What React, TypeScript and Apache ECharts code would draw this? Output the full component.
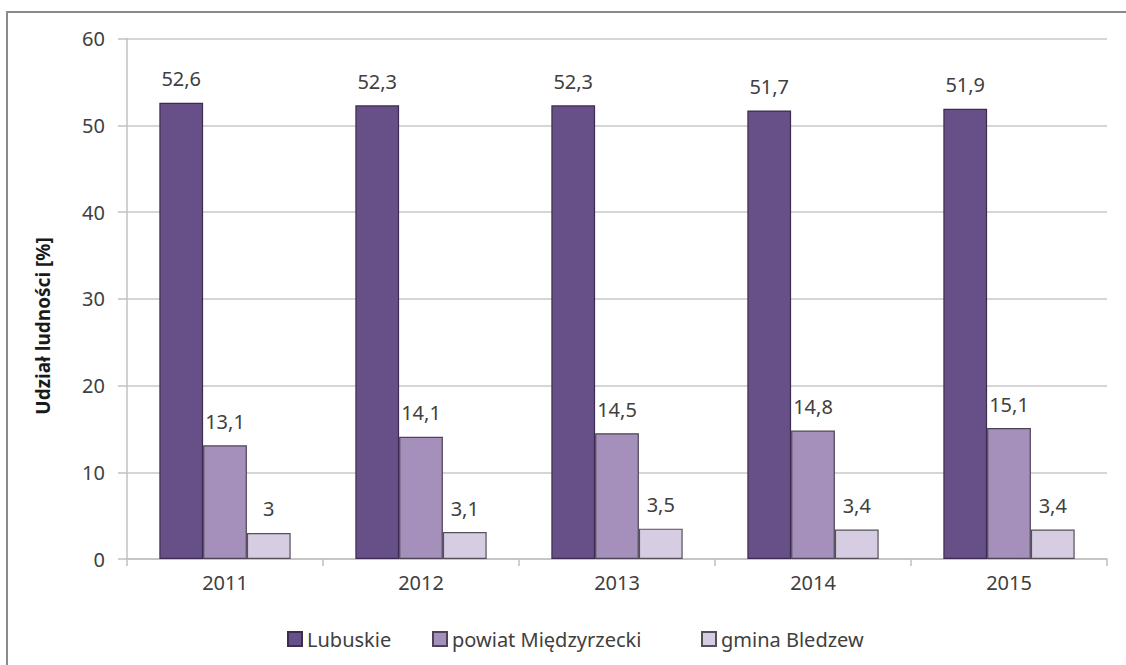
import React, { useEffect, useRef } from "react";
import * as echarts from "echarts";

const years = ["2011", "2012", "2013", "2014", "2015"];
const lubuskie = [52.6, 52.3, 52.3, 51.7, 51.9];
const powiat = [13.1, 14.1, 14.5, 14.8, 15.1];
const gmina = [3, 3.1, 3.5, 3.4, 3.4];
const seriesNames = ["Lubuskie", "powiat Międzyrzecki", "gmina Bledzew"];
const yTitle = "Udział ludności [%]";

const FONT = "'Noto Sans', sans-serif";
const TXT = "#404040";
const legendLefts = [282, 427, 696];

export default function App() {
  const ref = useRef<HTMLDivElement>(null);
  useEffect(() => {
    if (!ref.current) return;
    const chart = echarts.init(ref.current, null, { renderer: "svg" });
    const label = {
      show: true,
      position: "top" as const,
      distance: 14,
      color: TXT,
      fontFamily: FONT,
      fontSize: 20,
      formatter: (p: any) => String(p.value).replace(".", ","),
    };
    const mk = (name: string, data: number[], color: string, border: string) => ({
      name,
      type: "bar",
      data,
      barGap: "0%",
      barCategoryGap: "33%",
      itemStyle: { color, borderColor: border, borderWidth: 1.2 },
      label,
    });
    chart.setOption({
      animation: false,
      backgroundColor: "#ffffff",
      grid: { left: 127, right: 19, top: 38.5, bottom: 106, containLabel: false },
      graphic: [
        {
          type: "rect",
          shape: { x: 7, y: 12, width: 1130, height: 670 },
          style: { fill: "none", stroke: "#8a8a8a", lineWidth: 2 },
          silent: true,
        },
        {
          type: "text",
          x: 43,
          y: 326,
          rotation: Math.PI / 2,
          style: {
            text: yTitle,
            fontFamily: FONT,
            fontSize: 19,
            fontWeight: "bold",
            fill: "#1a1a1a",
            align: "center",
            verticalAlign: "middle",
          },
        },
      ],
      legend: seriesNames.map((n, i) => ({
        left: legendLefts[i],
        top: 624,
        icon: "rect",
        itemWidth: 14,
        itemHeight: 14,
        itemGap: 0,
        textStyle: { fontFamily: FONT, fontSize: 20, color: TXT },
        data: [n],
      })),
      xAxis: {
        type: "category",
        data: years,
        axisLine: { show: true, lineStyle: { color: "#c0c0c0", width: 1.5 } },
        axisTick: { show: true, length: 7, alignWithLabel: false, lineStyle: { color: "#c0c0c0", width: 1.5 } },
        axisLabel: { color: TXT, fontFamily: FONT, fontSize: 20, margin: 13 },
        splitLine: { show: false },
      },
      yAxis: {
        type: "value",
        min: 0,
        max: 60,
        interval: 10,
        axisLine: { show: true, lineStyle: { color: "#c0c0c0", width: 1.5 } },
        axisTick: { show: true, inside: false, length: 9, lineStyle: { color: "#c0c0c0", width: 1.5 } },
        axisLabel: { color: TXT, fontFamily: FONT, fontSize: 20, margin: 22 },
        splitLine: { show: true, lineStyle: { color: "#c8c8c8", width: 1.5 } },
      },
      series: [
        mk(seriesNames[0], lubuskie, "#674f88", "#3b2d4f"),
        mk(seriesNames[1], powiat, "#a58fbb", "#4d4455"),
        mk(seriesNames[2], gmina, "#d7cde3", "#555059"),
      ],
    });
    return () => chart.dispose();
  }, []);
  return (
    <div
      ref={ref}
      style={{ position: "fixed", left: 0, top: 0, width: 1126, height: 665, background: "#fff" }}
    />
  );
}
